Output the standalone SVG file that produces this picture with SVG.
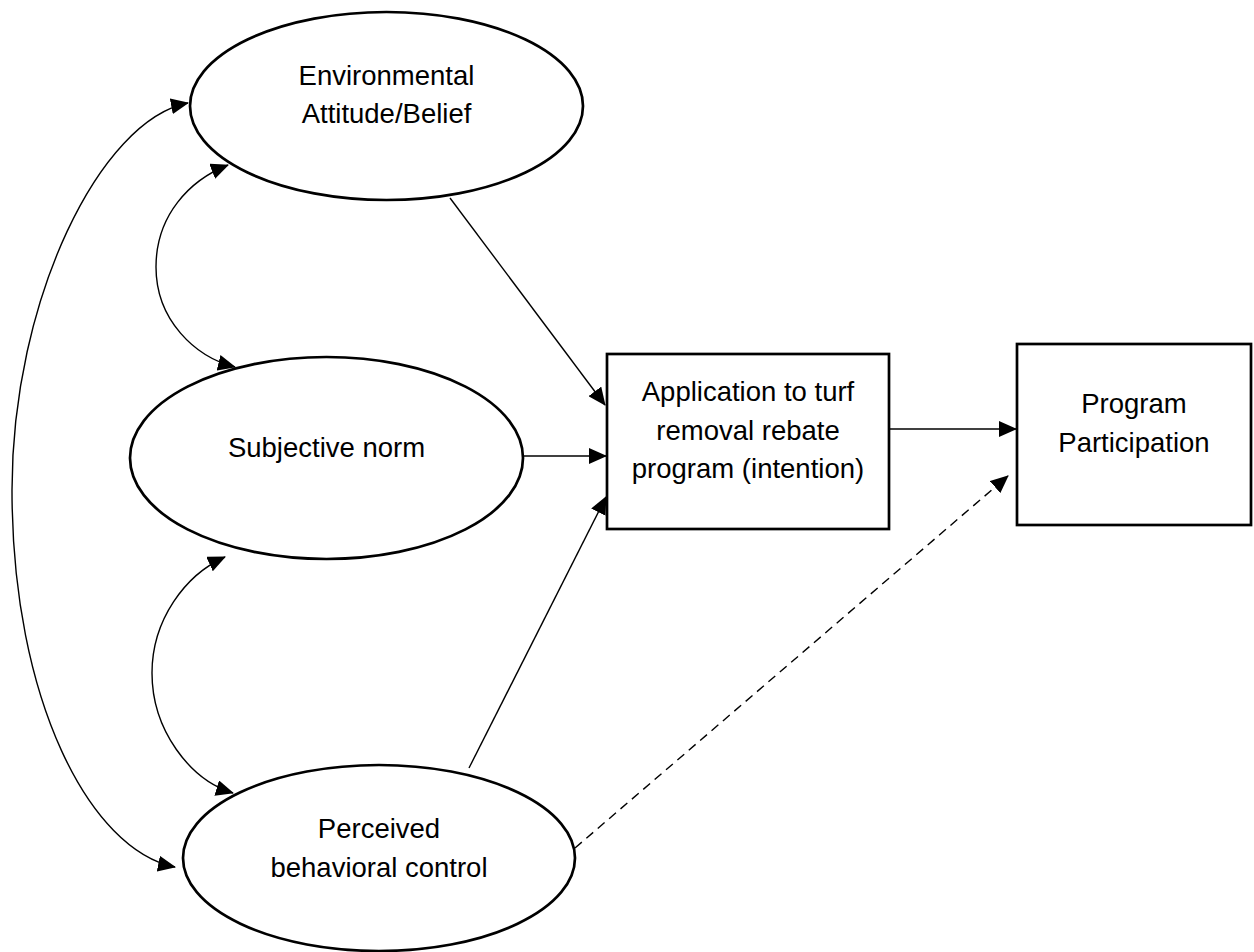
<svg xmlns="http://www.w3.org/2000/svg" width="1254" height="952" viewBox="0 0 1254 952">
<style>
.node{fill:#fff;stroke:#000;stroke-width:2.7}
.lbl{font-family:"Liberation Sans",Arial,sans-serif;font-size:27.5px;fill:#000;text-anchor:middle}
.c{fill:none;stroke:#000;stroke-width:1.4}
.d{stroke-dasharray:9,6}
</style>
<defs>
<marker id="ah" markerUnits="userSpaceOnUse" markerWidth="18" markerHeight="16" refX="17" refY="8" orient="auto-start-reverse">
<path d="M0,0 L18,8 L0,16 Z" fill="#000"/>
</marker>
</defs>
<rect width="1254" height="952" fill="#fff"/>
<g id="n-env">
<ellipse class="node" cx="386.5" cy="106" rx="196.5" ry="94"/>
<text class="lbl" x="386.5" y="85">Environmental</text>
<text class="lbl" x="386.5" y="123">Attitude/Belief</text>
</g>
<g id="n-subj">
<ellipse class="node" cx="326.5" cy="458" rx="196.5" ry="101"/>
<text class="lbl" x="326.5" y="457">Subjective norm</text>
</g>
<g id="n-pbc">
<ellipse class="node" cx="379" cy="858" rx="196" ry="93"/>
<text class="lbl" x="379" y="838">Perceived</text>
<text class="lbl" x="379" y="877">behavioral control</text>
</g>
<g id="n-app">
<rect class="node" x="607" y="354" width="282" height="175"/>
<text class="lbl" x="748" y="401">Application to turf</text>
<text class="lbl" x="748" y="440">removal rebate</text>
<text class="lbl" x="748" y="478">program (intention)</text>
</g>
<g id="n-part">
<rect class="node" x="1017" y="344" width="234" height="181"/>
<text class="lbl" x="1134" y="413">Program</text>
<text class="lbl" x="1134" y="452">Participation</text>
</g>
<g id="connectors">
<line class="c" x1="450" y1="198" x2="605" y2="405" marker-end="url(#ah)"/>
<line class="c" x1="522" y1="456" x2="606" y2="456" marker-end="url(#ah)"/>
<line class="c" x1="469" y1="768" x2="606" y2="497" marker-end="url(#ah)"/>
<line class="c" x1="889" y1="429" x2="1016" y2="429" marker-end="url(#ah)"/>
<line class="c d" x1="575" y1="848" x2="1008" y2="476" marker-end="url(#ah)"/>
<path class="c" d="M188,103 C100,120 12,300 12,490 C12,700 90,850 175,867" marker-start="url(#ah)" marker-end="url(#ah)"/>
<path class="c" d="M228,165 C190,180 156,215 156,267 C156,320 195,357 235,367" marker-start="url(#ah)" marker-end="url(#ah)"/>
<path class="c" d="M225,557 C185,575 152,620 152,673 C152,730 190,780 233,793" marker-start="url(#ah)" marker-end="url(#ah)"/>
</g>
</svg>
